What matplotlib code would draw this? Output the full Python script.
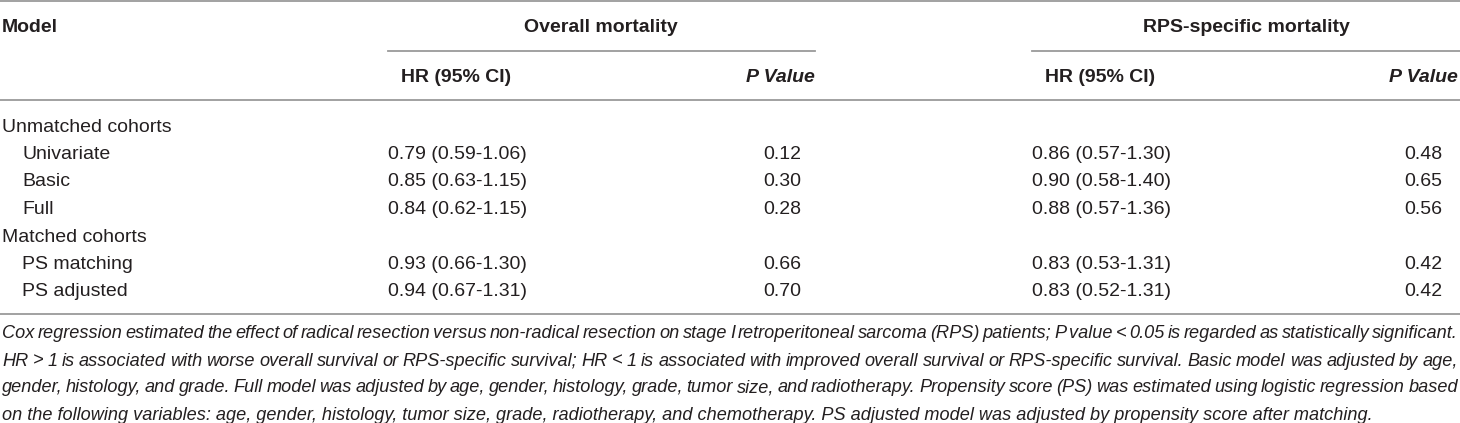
import matplotlib.pyplot as plt

# table content
groups = ['Unmatched cohorts', 'Matched cohorts']
models = [['Univariate', 'Basic', 'Full'], ['PS matching', 'PS adjusted']]
hr_overall = ['0.79 (0.59-1.06)', '0.85 (0.63-1.15)', '0.84 (0.62-1.15)',
              '0.93 (0.66-1.30)', '0.94 (0.67-1.31)']
p_overall = ['0.12', '0.30', '0.28', '0.66', '0.70']
hr_rps = ['0.86 (0.57-1.30)', '0.90 (0.58-1.40)', '0.88 (0.57-1.36)',
          '0.83 (0.53-1.31)', '0.83 (0.52-1.31)']
p_rps = ['0.48', '0.65', '0.56', '0.42', '0.42']
caption = [
    'Cox regression estimated the effect of radical resection versus non-radical resection on stage I retroperitoneal sarcoma (RPS) patients; P value < 0.05 is regarded as statistically significant.',
    'HR > 1 is associated with worse overall survival or RPS-specific survival; HR < 1 is associated with improved overall survival or RPS-specific survival. Basic model was adjusted by age,',
    'gender, histology, and grade. Full model was adjusted by age, gender, histology, grade, tumor size, and radiotherapy. Propensity score (PS) was estimated using logistic regression based',
    'on the following variables: age, gender, histology, tumor size, grade, radiotherapy, and chemotherapy. PS adjusted model was adjusted by propensity score after matching.',
]

W, H = 1460, 423
TXT = '#231f20'
LINE = '#9a9a9a'

fig = plt.figure(figsize=(W / 100, H / 100), dpi=100)
ax = fig.add_axes([0, 0, 1, 1])
ax.set_xlim(0, W)
ax.set_ylim(H, 0)
ax.axis('off')

body = dict(family='Liberation Sans', size=14, color=TXT, va='center')
bold = dict(body, weight='bold')
cap = dict(family=['Liberation Sans Narrow', 'Liberation Sans'], size=13.1,
           style='italic', color=TXT, va='center')

# rules
ax.plot([0, W], [1, 1], color=LINE, lw=1.3)
ax.plot([388, 815], [51, 51], color=LINE, lw=1.3)
ax.plot([1032, W], [51, 51], color=LINE, lw=1.3)
ax.plot([0, W], [100, 100], color=LINE, lw=1.3)
ax.plot([0, W], [314, 314], color=LINE, lw=1.3)

# header
ax.text(2, 27, 'Model', **bold)
ax.text(601, 27, 'Overall mortality', ha='center', **bold)
ax.text(1246, 27, 'RPS-specific mortality', ha='center', **bold)
ax.text(401, 77, 'HR (95% CI)', **bold)
ax.text(815, 77, 'P Value', ha='right', style='italic', **bold)
ax.text(1045, 77, 'HR (95% CI)', **bold)
ax.text(1458, 77, 'P Value', ha='right', style='italic', **bold)

# body rows
y = 127
k = 0
for g, ms in zip(groups, models):
    ax.text(2, y, g, **body)
    y += 27.5
    for m in ms:
        ax.text(22, y, m, **body)
        ax.text(388, y, hr_overall[k], **body)
        ax.text(801, y, p_overall[k], ha='right', **body)
        ax.text(1032, y, hr_rps[k], **body)
        ax.text(1442, y, p_rps[k], ha='right', **body)
        k += 1
        y += 27.5


def justify(line, x0, x1, yy, **kw):
    # spread words over the full line width
    r = fig.canvas.get_renderer()
    words = line.split(' ')
    widths = []
    for w in words:
        t = ax.text(0, 0, w, **kw)
        widths.append(t.get_window_extent(r).width)
        t.remove()
    gap = (x1 - x0 - sum(widths)) / (len(words) - 1)
    x = x0
    for w, wd in zip(words, widths):
        ax.text(x, yy, w, **kw)
        x += wd + gap


for i, line in enumerate(caption):
    yy = 334 + i * 27
    if i < len(caption) - 1:
        justify(line, 2, 1458, yy, **cap)
    else:
        ax.text(2, yy, line, **cap)

fig.savefig('out.png', dpi=100)
